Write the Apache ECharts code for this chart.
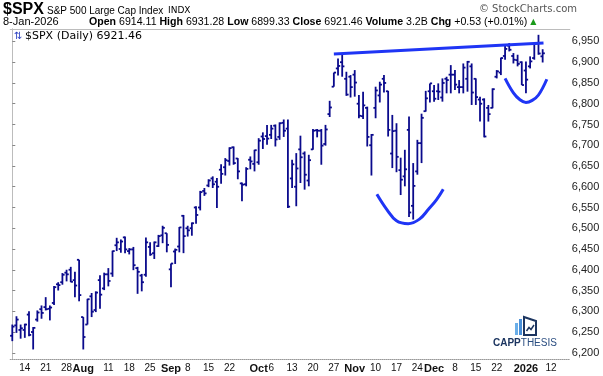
<!DOCTYPE html>
<html><head><meta charset="utf-8">
<style>html,body{margin:0;padding:0;background:#fff}#c{width:603px;height:376px}</style>
<script src="https://cdn.jsdelivr.net/npm/echarts@6/dist/echarts.min.js"></script>
</head><body><div id="c"></div>
<script>
// Daily OHLC, 9-Jul-2025 .. 8-Jan-2026 (index 0 = 9-Jul)
const opens = [6241,6266,6255,6255,6292,6250,6280,6305,6310,6306,
6320,6365,6370,6393,6400,6375,6424,6286,6268,6336,
6303,6375,6355,6389,6391,6459,6450,6478,6445,6449,
6404,6386,6388,6455,6440,6457,6483,6488,6401,6444,
6456,6530,6500,6500,6550,6550,6590,6603,6620,6612,
6641,6647,6662,6695,6668,6608,6606,6665,6655,6659,
6721,6722,6725,6747,6720,6754,6740,6620,6600,6690,
6680,6615,6690,6736,6735,6703,6775,6841,6885,6900,
6860,6865,6870,6800,6770,6790,6700,6790,6820,6860,
6830,6680,6735,6640,6625,6737,6554,6637,6705,6782,
6830,6830,6830,6815,6860,6870,6870,6840,6840,6860,
6890,6860,6810,6810,6790,6790,6865,6875,6915,6940,
6915,6905,6900,6880,6890,6910,6945,6914.11];
const highs = [6268,6288,6268,6270,6300,6262,6302,6314,6334,6314,
6361,6370,6392,6400,6407,6395,6424,6286,6330,6344,
6348,6387,6393,6404,6446,6477,6473,6480,6452,6455,
6407,6390,6478,6466,6468,6484,6506,6488,6415,6451,
6503,6532,6506,6514,6553,6590,6597,6618,6625,6621,
6654,6669,6695,6697,6669,6610,6647,6673,6689,6717,
6731,6749,6749,6750,6755,6762,6762,6665,6681,6723,
6685,6677,6739,6739,6739,6749,6807,6875,6909,6920,
6877,6869,6881,6821,6829,6793,6727,6841,6853,6869,
6831,6773,6753,6670,6689,6769,6657,6713,6776,6831,
6849,6845,6849,6861,6865,6893,6881,6857,6897,6903,
6897,6861,6817,6813,6797,6837,6881,6911,6942,6946,
6922,6918,6902,6902,6914,6946,6966,6931.28];
const lows = [6228,6248,6234,6236,6240,6208,6275,6282,6302,6278,
6315,6350,6364,6372,6370,6334,6324,6208,6268,6286,
6298,6306,6351,6360,6383,6445,6441,6440,6437,6399,
6342,6348,6383,6434,6426,6455,6464,6442,6358,6414,
6442,6440,6480,6482,6511,6543,6578,6599,6597,6549,
6607,6627,6651,6653,6618,6565,6601,6642,6637,6653,
6691,6701,6715,6697,6713,6720,6549,6597,6553,6609,
6593,6601,6689,6719,6653,6699,6768,6841,6868,6865,
6819,6815,6817,6765,6763,6697,6627,6765,6803,6827,
6721,6645,6635,6580,6601,6527,6521,6629,6657,6781,
6803,6805,6809,6805,6825,6825,6833,6825,6825,6829,
6797,6797,6757,6719,6757,6789,6861,6869,6906,6926,
6897,6890,6845,6825,6885,6906,6918,6899.33];
const closes = [6263,6280,6259,6268,6243,6260,6297,6296,6305,6309,
6358,6363,6388,6389,6371,6362,6339,6238,6329,6299,
6345,6340,6389,6373,6445,6466,6468,6449,6449,6411,
6395,6370,6466,6437,6466,6481,6501,6460,6415,6448,
6502,6481,6495,6512,6532,6587,6584,6615,6606,6600,
6631,6664,6693,6657,6637,6605,6643,6661,6688,6711,
6715,6716,6740,6714,6753,6735,6552,6654,6644,6671,
6629,6664,6735,6735,6699,6738,6791,6875,6891,6890,
6822,6840,6851,6771,6796,6720,6725,6832,6846,6850,
6737,6734,6672,6617,6642,6538,6602,6705,6766,6813,
6849,6812,6829,6850,6857,6870,6846,6840,6887,6901,
6827,6816,6800,6721,6775,6835,6878,6910,6932,6930,
6906,6896,6845,6858,6902,6944,6921,6921.46];

// x-axis tick positions (trading-day index) and their labels
const xTickIdx  = [3,8,13,17,23,28,33,38,42,47,52,59,62,67,72,77,82,87,92,97,101,106,111,116,123,129];
const xTickText = ['14','21','28','Aug','11','18','25','Sep','8','15','22','Oct','6','13','20','27','Nov','10','17','24','Dec','8','15','22','2026','12'];
const boldLabels = ['Aug','Sep','Oct','Nov','Dec','2026'];
const yTicks = [6200,6250,6300,6350,6400,6450,6500,6550,6600,6650,6700,6750,6800,6850,6900,6950];

// hand-drawn annotations (index, price)
const trendLine = [[77.0,6920],[127.2,6946]];
const bigArc = [[87.3,6582],[89.7,6545],[92.0,6518],[94.8,6511],[97.5,6522],[99.6,6545],[101.6,6569],[103.2,6594]];
const smallArc = [[118.0,6861],[120.0,6826],[121.5,6810],[123.0,6803],[124.5,6808],[126.0,6821],[128.0,6859]];

const FONT = '"Liberation Sans", Arial, sans-serif';
const BAR = '#0a0a8c';
const DRAW = '#1f35f5';

const ohlc = opens.map((o, i) => [i, o, highs[i], lows[i], closes[i]]);
const tickMap = {};
xTickIdx.forEach((v, k) => { tickMap[v] = xTickText[k]; });

const chart = echarts.init(document.getElementById('c'), null, {renderer: 'canvas'});
const boxAxisLine = {show: true, lineStyle: {color: '#bcbcbc', width: 1}};
chart.setOption({
  animation: false,
  backgroundColor: '#fff',
  grid: {left: 10.2, right: 33.2, top: 29, bottom: 17, containLabel: false},
  xAxis: [{
    type: 'value', min: -0.5, max: 133.5, position: 'bottom',
    axisLine: {show: true, onZero: false, lineStyle: {color: '#999', type: 'dotted'}},
    axisTick: {show: false},
    splitLine: {show: false},
    axisLabel: {
      customValues: xTickIdx, margin: 4, fontSize: 10, fontFamily: FONT, color: '#111',
      formatter: v => { const t = tickMap[Math.round(v)] || ''; return boldLabels.includes(t) ? '{m|' + t + '}' : t; },
      rich: {m: {fontWeight: 'bold', fontSize: 11, fontFamily: FONT, color: '#111'}}
    }
  }, {
    type: 'value', min: -0.5, max: 133.5, position: 'top',
    axisLine: boxAxisLine, axisTick: {show: false}, axisLabel: {show: false}, splitLine: {show: false}
  }],
  yAxis: [{
    type: 'value', min: 6185, max: 6980, position: 'right',
    axisLine: boxAxisLine,
    axisTick: {show: true, customValues: yTicks, length: 3, lineStyle: {color: '#888'}},
    splitLine: {show: false},
    axisLabel: {customValues: yTicks, margin: 2, fontSize: 11, fontFamily: FONT, color: '#222'}
  }, {
    type: 'value', min: 6185, max: 6980, position: 'left',
    axisLine: boxAxisLine, axisTick: {show: false}, axisLabel: {show: false}, splitLine: {show: false}
  }],
  series: [{
    type: 'custom',
    data: ohlc,
    encode: {x: 0, y: [1, 2, 3, 4]},
    renderItem: function (params, api) {
      const x = api.value(0);
      const hi = api.coord([x, api.value(2)]);
      const lo = api.coord([x, api.value(3)]);
      const op = api.coord([x, api.value(1)]);
      const cl = api.coord([x, api.value(4)]);
      const st = {stroke: BAR, lineWidth: 1.8};
      return {type: 'group', children: [
        {type: 'line', shape: {x1: hi[0], y1: hi[1], x2: lo[0], y2: lo[1]}, style: st},
        {type: 'line', shape: {x1: op[0] - 2.2, y1: op[1], x2: op[0], y2: op[1]}, style: st},
        {type: 'line', shape: {x1: cl[0], y1: cl[1], x2: cl[0] + 2.2, y2: cl[1]}, style: st}
      ]};
    }
  }, {
    type: 'line', data: trendLine, symbol: 'none', z: 5,
    lineStyle: {color: DRAW, width: 3}
  }, {
    type: 'line', data: bigArc, symbol: 'none', smooth: 0.4, z: 5,
    lineStyle: {color: DRAW, width: 3}
  }, {
    type: 'line', data: smallArc, symbol: 'none', smooth: 0.4, z: 5,
    lineStyle: {color: DRAW, width: 3}
  }],
  graphic: [
    {type: 'text', x: 3, y: 10, style: {text: '$SPX', font: 'bold 16px ' + FONT, fill: '#000', verticalAlign: 'middle'}},
    {type: 'text', x: 47, y: 11, style: {text: 'S&P 500 Large Cap Index', font: '10px ' + FONT, fill: '#000', verticalAlign: 'middle'}},
    {type: 'text', x: 168, y: 11, style: {text: 'INDX', font: '9px "DejaVu Sans", sans-serif', fill: '#000', verticalAlign: 'middle'}},
    {type: 'text', x: 577, y: 9, style: {text: '\u00a9 StockCharts.com', font: '10px "DejaVu Sans", sans-serif', fill: '#555', align: 'right', verticalAlign: 'middle'}},
    {type: 'text', x: 3, y: 22, style: {text: '8-Jan-2026', font: '11px ' + FONT, fill: '#000', verticalAlign: 'middle'}},
    {type: 'text', x: 89, y: 22, style: {
      text: '{b|Open} {n|6914.11} {b|High} {n|6931.28} {b|Low} {n|6899.33} {b|Close} {n|6921.46} {b|Volume} {n|3.2B} {b|Chg} {n|+0.53 (+0.01%)} {g|\u25b2}',
      font: '10.6px ' + FONT, fill: '#000', verticalAlign: 'middle',
      rich: {
        b: {fontWeight: 'bold', fontSize: 10.6, fontFamily: FONT, fill: '#000'},
        n: {fontSize: 10.6, fontFamily: FONT, fill: '#000'},
        g: {fontSize: 8, fontFamily: '"DejaVu Sans", sans-serif', fill: '#1a9a1a'}
      }
    }},
    {type: 'text', x: 14, y: 36, style: {text: '\u21c5', font: '10px "DejaVu Sans", sans-serif', fill: '#2a3fc0', verticalAlign: 'middle'}},
    {type: 'text', x: 25, y: 36, style: {text: '$SPX (Daily) 6921.46', font: '11px "DejaVu Sans", sans-serif', fill: '#000', verticalAlign: 'middle'}},
    // logo
    {type: 'rect', shape: {x: 515, y: 323, width: 3, height: 12}, style: {fill: '#6aaee8'}},
    {type: 'rect', shape: {x: 519, y: 319, width: 3, height: 16}, style: {fill: '#4a90d9'}},
    {type: 'polygon', shape: {points: [[524, 317], [536, 321], [536, 335], [524, 335]]}, style: {fill: 'none', stroke: '#1c3560', lineWidth: 2}},
    {type: 'polyline', shape: {points: [[526.5, 331], [529, 327.5], [531, 329.5], [534, 325]]}, style: {fill: 'none', stroke: '#1c3560', lineWidth: 1.5}},
    {type: 'text', x: 493, y: 343, style: {
      text: '{a|CAPP}{b|THESIS}', verticalAlign: 'middle',
      rich: {
        a: {fontWeight: 'bold', fontSize: 10, fontFamily: FONT, fill: '#1c3560'},
        b: {fontSize: 10, fontFamily: FONT, fill: '#2a4d80'}
      }
    }}
  ]
});
</script></body></html>
